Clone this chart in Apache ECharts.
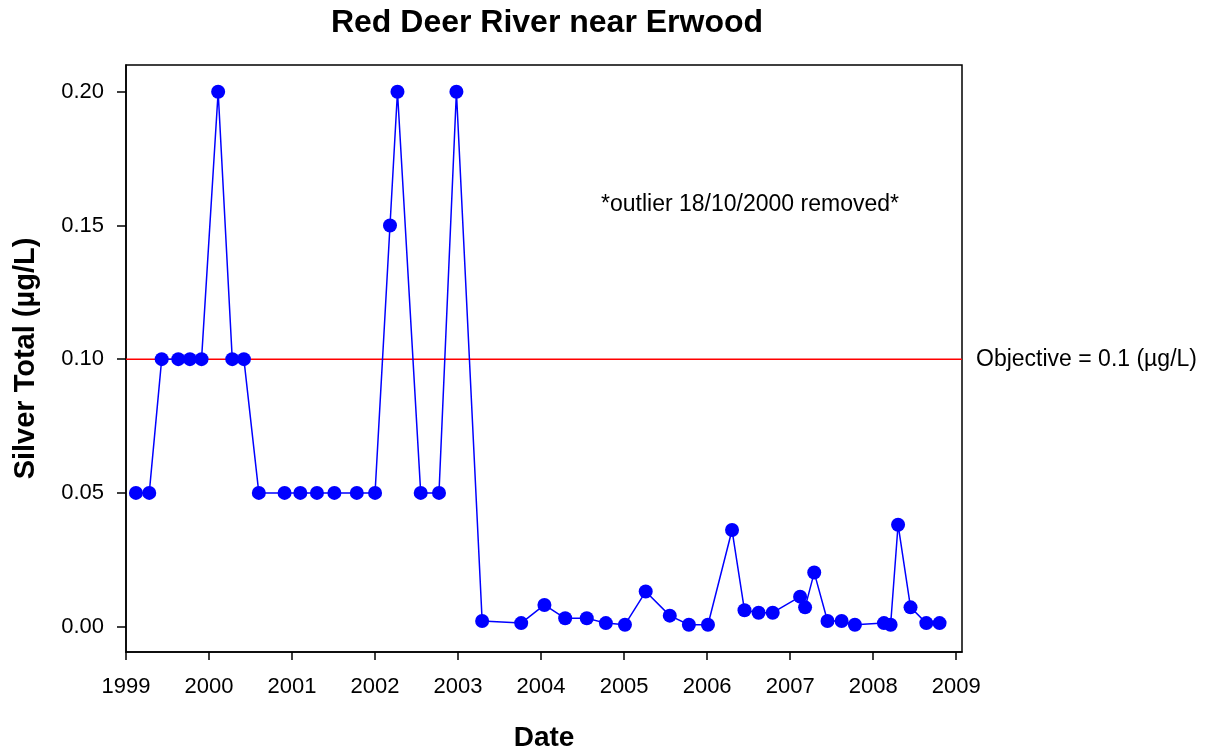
<!DOCTYPE html>
<html>
<head>
<meta charset="utf-8">
<script src="https://cdn.jsdelivr.net/npm/echarts@6/dist/echarts.min.js"></script>
<style>html,body{margin:0;padding:0;background:#fff}#c{width:1212px;height:752px}</style>
</head>
<body>
<div id="c"></div>
<script>
// Decimal-year sample dates and silver totals (µg/L)
const dates = [1999.12,1999.28,1999.43,1999.63,1999.77,1999.91,2000.11,2000.28,2000.42,2000.60,
  2000.91,2001.10,2001.30,2001.51,2001.78,2002.00,2002.18,2002.27,2002.55,2002.77,
  2002.98,2003.29,2003.76,2004.04,2004.29,2004.55,2004.78,2005.01,2005.26,2005.55,
  2005.78,2006.01,2006.30,2006.45,2006.62,2006.79,2007.12,2007.18,2007.29,2007.45,
  2007.62,2007.78,2008.13,2008.21,2008.30,2008.45,2008.64,2008.80];
const silver = [0.05,0.05,0.10,0.10,0.10,0.10,0.20,0.10,0.10,0.05,
  0.05,0.05,0.05,0.05,0.05,0.05,0.15,0.20,0.05,0.05,
  0.20,0.0021,0.0013,0.0081,0.0031,0.0031,0.0013,0.0007,0.0131,0.0041,
  0.0007,0.0007,0.0361,0.0061,0.0052,0.0052,0.0112,0.0072,0.0202,0.0021,
  0.0021,0.0007,0.0013,0.0007,0.0381,0.0072,0.0013,0.0013];
const xTicks = [1999,2000,2001,2002,2003,2004,2005,2006,2007,2008,2009];
const yTicks = [0,0.05,0.10,0.15,0.20];
const xMin = 1999, xMax = 2009.07;
const objective = 0.1;

const chart = echarts.init(document.getElementById('c'), null, {renderer:'canvas'});
const font = 'Liberation Sans, Arial, sans-serif';
chart.setOption({
  animation:false,
  backgroundColor:'#fff',
  title:{text:'Red Deer River near Erwood', left:542, top:2, textAlign:'center',
    textStyle:{fontFamily:font, fontWeight:'bold', fontSize:32, color:'#000'}},
  grid:{left:126, top:65, right:250, bottom:100, show:true, borderColor:'#000', borderWidth:1.5,
    containLabel:false, outerBoundsMode:'none'},
  xAxis:{type:'value', min:xMin, max:xMax, interval:1,
    name:'Date', nameLocation:'middle', nameGap:72,
    nameTextStyle:{fontFamily:font, fontWeight:'bold', fontSize:28, color:'#000'},
    axisLine:{onZero:false, lineStyle:{color:'#000', width:1.5}},
    axisTick:{show:true, length:8, lineStyle:{color:'#000', width:1.5}, customValues:xTicks},
    axisLabel:{fontFamily:font, fontSize:22, color:'#000', margin:24, customValues:xTicks,
      formatter:v=>String(Math.round(v))},
    splitLine:{show:false}},
  yAxis:{type:'value', min:-0.0095, max:0.21,
    name:'Silver Total (µg/L)', nameLocation:'middle', nameGap:86,
    nameTextStyle:{fontFamily:font, fontWeight:'bold', fontSize:29, color:'#000'},
    axisLine:{show:true, onZero:false, lineStyle:{color:'#000', width:1.5}},
    axisTick:{show:true, length:9, lineStyle:{color:'#000', width:1.5}, customValues:yTicks},
    axisLabel:{fontFamily:font, fontSize:22, color:'#000', margin:22, customValues:yTicks,
      formatter:v=>v.toFixed(2)},
    splitLine:{show:false}},
  series:[{
    type:'line',
    data:[[xMin,objective],[xMax,objective]],
    symbol:'none', silent:true,
    lineStyle:{color:'#ff0000', width:1.5},
    z:2,
    endLabel:{show:true, distance:14, formatter:'Objective = 0.1 (µg/L)',
      fontFamily:font, fontSize:23, color:'#000'}
  },{
    type:'line',
    data:dates.map((d,i)=>[d,silver[i]]),
    symbol:'circle', symbolSize:14,
    itemStyle:{color:'#0000ff'},
    lineStyle:{color:'#0000ff', width:1.5},
    z:3
  }],
  graphic:[{type:'text', x:750, y:205, style:{text:'*outlier 18/10/2000 removed*',
    textAlign:'center', textVerticalAlign:'middle', font:'23px Liberation Sans, Arial, sans-serif', fill:'#000'}}]
});
</script>
</body>
</html>
